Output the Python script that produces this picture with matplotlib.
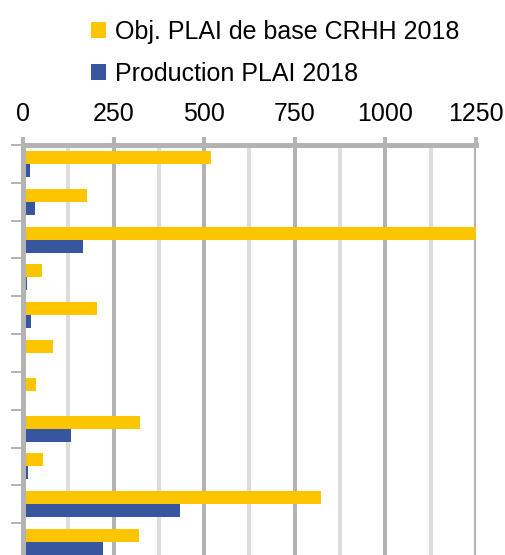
import numpy as np
import matplotlib
matplotlib.use("Agg")
import matplotlib.pyplot as plt

plt.rcParams["font.family"] = ["Liberation Sans", "DejaVu Sans"]

# ============================
# DATA (groups listed top to bottom)
# ============================
series_names = ["Obj. PLAI de base CRHH 2018", "Production PLAI 2018"]
objectif = [519, 177, 1250, 52, 204, 83, 36, 323, 55, 822, 320]
production = [19, 33, 166, 11, 22, 8, 0, 132, 14, 433, 221]
x_ticks = [0, 250, 500, 750, 1000, 1250]

yellow = "#FDC500"
blue = "#3855A0"
grid_major = "#B3B3B3"
grid_minor = "#DDDDDD"

# ============================
# FIGURE
# ============================
fig = plt.figure(figsize=(5.06, 5.55), dpi=100)
ax = fig.add_axes([23 / 506, 1 - 561 / 555, 453 / 506, 416 / 555])

n = len(objectif)
y = np.arange(n)
h = 0.344

ax.barh(y - h / 2, objectif, height=h, color=yellow, label=series_names[0], zorder=3)
ax.barh(y + h / 2, production, height=h, color=blue, label=series_names[1], zorder=3)

ax.set_xlim(0, 1250)
ax.set_ylim(n - 0.5, -0.5)

# x axis on top
ax.xaxis.tick_top()
ax.set_xticks(x_ticks)
ax.set_xticks(np.arange(125, 1250, 250), minor=True)
ax.tick_params(axis="x", which="major", top=True, bottom=False, length=5.8,
               width=2.9, color=grid_major, labelsize=18, pad=8)
ax.tick_params(axis="x", which="minor", top=False, bottom=False)

# category boundaries as y ticks, no labels
ax.set_yticks(np.arange(-0.5, n, 1))
ax.set_yticklabels([])
ax.tick_params(axis="y", length=8.6, width=1.4, color=grid_major)

ax.grid(axis="x", which="major", color=grid_major, linewidth=2.9, zorder=1)
ax.grid(axis="x", which="minor", color=grid_minor, linewidth=2.9, zorder=0)
ax.set_axisbelow(True)

for side in ["right", "bottom"]:
    ax.spines[side].set_visible(False)
for side in ["top", "left"]:
    ax.spines[side].set_color(grid_major)
    ax.spines[side].set_linewidth(3.6)
    ax.spines[side].set_zorder(4)

fig.legend(loc="upper left", bbox_to_anchor=(91 / 506, 1 - 20 / 555),
           frameon=False, fontsize=18, handlelength=0.6, handleheight=0.6,
           handletextpad=0.36, labelspacing=0.72, borderpad=0, borderaxespad=0)

fig.savefig("out.png", dpi=100)
